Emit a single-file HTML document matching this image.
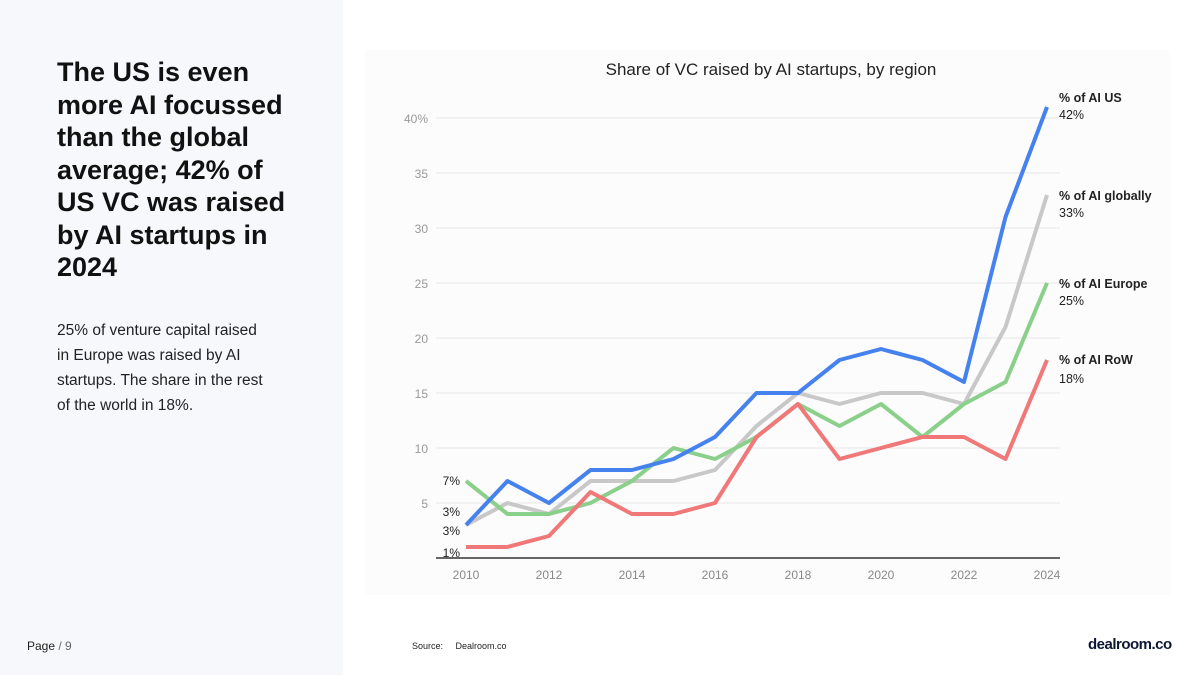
<!DOCTYPE html>
<html><head><meta charset="utf-8"><style>
body{margin:0;width:1200px;height:675px;background:#fff;font-family:"Liberation Sans",sans-serif;position:relative;overflow:hidden}
.left{position:absolute;left:0;top:0;width:343px;height:675px;background:#f7f8fc}
h1{position:absolute;left:57px;top:56px;margin:0;font-size:27px;line-height:32.5px;font-weight:bold;color:#111;width:250px}
p{position:absolute;left:57px;top:318px;margin:0;font-size:15.5px;line-height:25px;color:#222;width:280px;white-space:nowrap}
.pg{position:absolute;left:27px;top:639px;font-size:12px;color:#222}
.src{position:absolute;left:412px;top:641px;font-size:9px;color:#222}
.logo{position:absolute;left:1088px;top:636px;font-size:15px;font-weight:bold;color:#0c1733;letter-spacing:-0.5px}
</style></head><body>
<div class="left"></div>
<h1>The US is even more AI focussed than the global average; 42% of US VC was raised by AI startups in 2024</h1>
<p>25% of venture capital raised<br>in Europe was raised by AI<br>startups. The share in the rest<br>of the world in 18%.</p>
<div class="pg">Page <span style="color:#666">/ 9</span></div>
<div class="src">Source:&nbsp;&nbsp;&nbsp;&nbsp;&nbsp;Dealroom.co</div>
<div class="logo">dealroom.co</div>
<svg width="1200" height="675" style="position:absolute;left:0;top:0" font-family="Liberation Sans, sans-serif">
<rect x="365" y="50" width="805" height="545" fill="#fcfcfc"/>
<text x="771" y="75" font-size="17" text-anchor="middle" fill="#222">Share of VC raised by AI startups, by region</text>
<g stroke="#e6e6e6" stroke-width="1">
<line x1="436" x2="1060" y1="503" y2="503"/><line x1="436" x2="1060" y1="448" y2="448"/>
<line x1="436" x2="1060" y1="393" y2="393"/><line x1="436" x2="1060" y1="338" y2="338"/>
<line x1="436" x2="1060" y1="283" y2="283"/><line x1="436" x2="1060" y1="228" y2="228"/>
<line x1="436" x2="1060" y1="173" y2="173"/><line x1="436" x2="1060" y1="118" y2="118"/>
</g>
<line x1="436" x2="1060" y1="558" y2="558" stroke="#333" stroke-width="1.5"/>
<g font-size="12" fill="#999" text-anchor="end">
<text x="428" y="508">5</text><text x="428" y="453">10</text><text x="428" y="398">15</text>
<text x="428" y="343">20</text><text x="428" y="288">25</text><text x="428" y="233">30</text>
<text x="428" y="178">35</text><text x="428" y="123">40%</text>
</g>
<g font-size="12" fill="#888" text-anchor="middle">
<text x="466" y="579">2010</text><text x="549" y="579">2012</text><text x="632" y="579">2014</text>
<text x="715" y="579">2016</text><text x="798" y="579">2018</text><text x="881" y="579">2020</text>
<text x="964" y="579">2022</text><text x="1047" y="579">2024</text>
</g>
<g fill="none" stroke-width="4" stroke-linejoin="round">
<polyline stroke="#c8c8c8" points="466,525 507.5,503 549,514 590.5,481 632,481 673.5,481 715,470 756.5,426 798,393 839.5,404 881,393 922.5,393 964,404 1005.5,327 1047,195"/>
<polyline stroke="#8ad08a" points="466,481 507.5,514 549,514 590.5,503 632,481 673.5,448 715,459 756.5,437 798,404 839.5,426 881,404 922.5,437 964,404 1005.5,382 1047,283"/>
<polyline stroke="#f07878" points="466,547 507.5,547 549,536 590.5,492 632,514 673.5,514 715,503 756.5,437 798,404 839.5,459 881,448 922.5,437 964,437 1005.5,459 1047,360"/>
<polyline stroke="#4682ee" points="466,525 507.5,481 549,503 590.5,470 632,470 673.5,459 715,437 756.5,393 798,393 839.5,360 881,349 922.5,360 964,382 1005.5,217 1047,107"/>
</g>
<g font-size="12" fill="#222" text-anchor="end">
<text x="460" y="485">7%</text><text x="460" y="516">3%</text><text x="460" y="535">3%</text><text x="460" y="557">1%</text>
</g>
<g font-size="12.5" fill="#222">
<text x="1059" y="102" font-weight="bold">% of AI US</text><text x="1059" y="119">42%</text>
<text x="1059" y="200" font-weight="bold">% of AI globally</text><text x="1059" y="217">33%</text>
<text x="1059" y="288" font-weight="bold">% of AI Europe</text><text x="1059" y="305">25%</text>
<text x="1059" y="364" font-weight="bold">% of AI RoW</text><text x="1059" y="383">18%</text>
</g>
</svg>
</body></html>
